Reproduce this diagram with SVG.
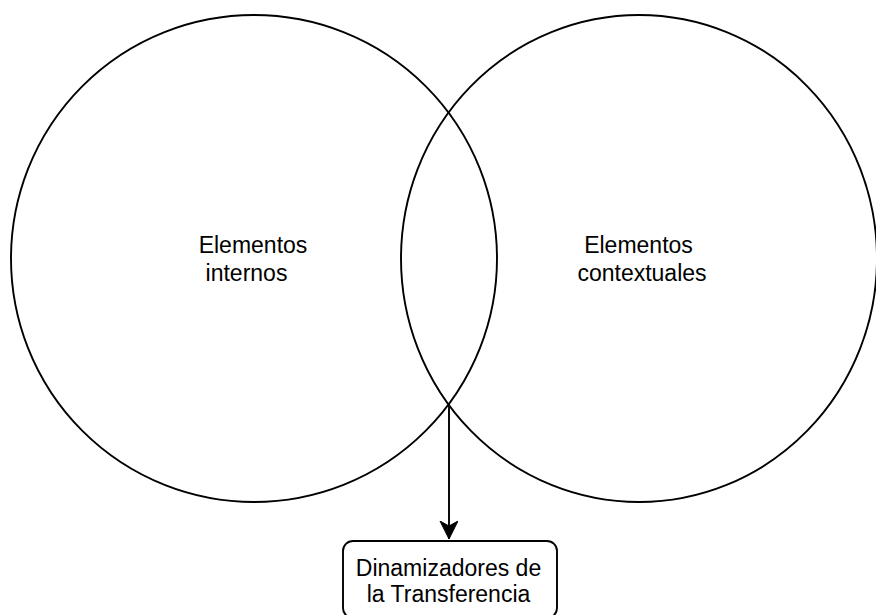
<svg xmlns="http://www.w3.org/2000/svg" width="876" height="615" viewBox="0 0 876 615">
<style>
.shape{fill:none;stroke:#000;stroke-width:1.9}
.box{fill:#fff;stroke:#000;stroke-width:1.9}
.lbl{font-family:"Liberation Sans",Arial,sans-serif;font-size:23px;fill:#000;text-anchor:middle}
.conn{stroke:#000;stroke-width:1.9;fill:none}
</style>
<defs>
<marker id="arr" markerUnits="userSpaceOnUse" markerWidth="20" markerHeight="20" refX="18" refY="9" orient="auto">
<path d="M0,0 L18,9 L0,18 L5,9 Z" fill="#000" stroke="#000" stroke-width="1"/>
</marker>
</defs>
<rect width="876" height="615" fill="#fff"/>
<g id="internos">
<ellipse class="shape" cx="254" cy="258.5" rx="243" ry="243.5"/>
<text class="lbl" x="253" y="253">Elementos</text>
<text class="lbl" x="246.5" y="281">internos</text>
</g>
<g id="contextuales">
<ellipse class="shape" cx="639" cy="258.5" rx="238" ry="243.5"/>
<text class="lbl" x="638.5" y="253">Elementos</text>
<text class="lbl" x="642" y="281">contextuales</text>
</g>
<g id="connectors">
<line class="conn" x1="449" y1="404" x2="449" y2="539" marker-end="url(#arr)"/>
</g>
<g id="dinamizadores">
<rect class="box" x="343" y="541" width="214" height="77" rx="10" ry="10"/>
<text class="lbl" x="448.5" y="576">Dinamizadores de</text>
<text class="lbl" x="448.5" y="602">la Transferencia</text>
</g>
</svg>
